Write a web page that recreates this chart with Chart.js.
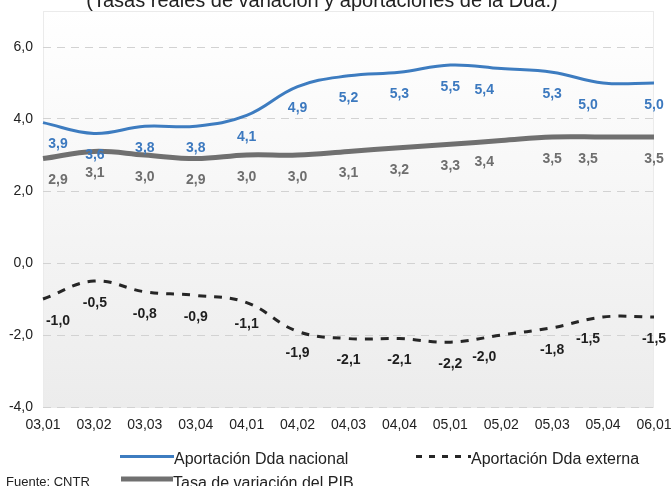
<!DOCTYPE html>
<html lang="es">
<head>
<meta charset="UTF-8">
<title>Aportaciones de la Dda.</title>
<script src="https://cdn.jsdelivr.net/npm/chart.js@4.4.1/dist/chart.umd.min.js"></script>
<style>
  body { margin: 0; background: #fff; }
</style>
</head>
<body>
<canvas id="chart" width="672" height="486"></canvas>
<script>
// values
const quarters = ['03,01', '03,02', '03,03', '03,04', '04,01', '04,02', '04,03', '04,04', '05,01', '05,02', '05,03', '05,04', '06,01'];
const nacional = [3.9, 3.6, 3.8, 3.8, 4.1, 4.9, 5.2, 5.3, 5.5, 5.4, 5.3, 5.0, 5.0];
const pib = [2.9, 3.1, 3.0, 2.9, 3.0, 3.0, 3.1, 3.2, 3.3, 3.4, 3.5, 3.5, 3.5];
const externa = [-1.0, -0.5, -0.8, -0.9, -1.1, -1.9, -2.1, -2.1, -2.2, -2.0, -1.8, -1.5, -1.5];
const yTicks = [-4, -2, 0, 2, 4, 6];

const FONT = "'Liberation Sans', Arial, sans-serif";
const fmt = v => v.toFixed(1).replace('.', ',');

// small horizontal nudges for the value labels, like the original
const labelShift = [15, 1, 0, 0, 0, 0, 0, 0, 0, -17, 0, -15, 0];

const plotBackground = {
    id: 'plotBackground',
    beforeDraw(chart) {
        const { ctx, chartArea: a } = chart;
        ctx.save();
        ctx.fillStyle = '#fff';
        ctx.fillRect(0, 0, chart.width, chart.height);
        const g = ctx.createLinearGradient(0, a.top, 0, a.bottom);
        g.addColorStop(0, '#ffffff');
        g.addColorStop(1, '#ececec');
        ctx.fillStyle = g;
        ctx.fillRect(a.left, a.top, a.right - a.left, a.bottom - a.top);
        ctx.strokeStyle = '#ebebeb';
        ctx.lineWidth = 1;
        ctx.strokeRect(a.left + 0.5, a.top + 0.5, a.right - a.left - 1, a.bottom - a.top);
        ctx.restore();
    }
};

const valueLabels = {
    id: 'valueLabels',
    afterDatasetsDraw(chart) {
        const ctx = chart.ctx;
        ctx.save();
        ctx.font = 'bold 14px ' + FONT;
        ctx.textAlign = 'center';
        ctx.textBaseline = 'middle';
        chart.data.datasets.forEach((ds, di) => {
            const meta = chart.getDatasetMeta(di);
            ctx.fillStyle = ds.labelColor;
            meta.data.forEach((pt, i) => {
                ctx.fillText(fmt(ds.data[i]), pt.x + labelShift[i], pt.y + 22);
            });
        });
        ctx.restore();
    }
};

const titleAndLegend = {
    id: 'titleAndLegend',
    afterDraw(chart) {
        const ctx = chart.ctx;
        ctx.save();
        ctx.fillStyle = '#222';
        ctx.textAlign = 'center';
        ctx.textBaseline = 'alphabetic';
        ctx.font = '20px ' + FONT;
        ctx.fillText('(Tasas reales de variación y aportaciones de la Dda.)', 322, 7);

        ctx.textAlign = 'left';
        ctx.font = '16px ' + FONT;
        // row 1
        ctx.strokeStyle = '#3d7cc0';
        ctx.lineWidth = 3;
        ctx.beginPath(); ctx.moveTo(120, 456.5); ctx.lineTo(174, 456.5); ctx.stroke();
        ctx.fillText('Aportación Dda nacional', 174, 463.5);
        ctx.strokeStyle = '#262626';
        ctx.setLineDash([6, 7]);
        ctx.beginPath(); ctx.moveTo(416, 456.5); ctx.lineTo(471, 456.5); ctx.stroke();
        ctx.setLineDash([]);
        ctx.fillText('Aportación Dda externa', 471, 463.5);
        // row 2
        ctx.strokeStyle = '#707070';
        ctx.lineWidth = 5;
        ctx.beginPath(); ctx.moveTo(121, 479); ctx.lineTo(173, 479); ctx.stroke();
        ctx.fillText('Tasa de variación del PIB', 173, 487.5);
        ctx.font = '13px ' + FONT;
        ctx.fillText('Fuente: CNTR', 6, 485.5);
        ctx.restore();
    }
};

const ctx = document.getElementById('chart').getContext('2d');
new Chart(ctx, {
    type: 'line',
    data: {
        labels: quarters,
        datasets: [
            {
                label: 'Aportación Dda nacional',
                data: nacional,
                borderColor: '#3d7cc0',
                borderWidth: 3,
                labelColor: '#3c79bf',
                pointRadius: 0,
                tension: 0.4,
                fill: false
            },
            {
                label: 'Tasa de variación del PIB',
                data: pib,
                borderColor: '#707070',
                borderWidth: 5,
                labelColor: '#6e6e6e',
                pointRadius: 0,
                tension: 0.4,
                fill: false
            },
            {
                label: 'Aportación Dda externa',
                data: externa,
                borderColor: '#262626',
                borderWidth: 3,
                borderDash: [8, 8],
                labelColor: '#1e1e1e',
                pointRadius: 0,
                tension: 0.4,
                fill: false
            }
        ]
    },
    options: {
        responsive: false,
        animation: false,
        layout: { padding: { top: 11, right: 18, bottom: 52, left: 0 } },
        plugins: {
            legend: { display: false },
            tooltip: { enabled: false }
        },
        scales: {
            x: {
                offset: false,
                grid: { display: false, drawTicks: false },
                border: { display: false },
                ticks: {
                    font: { family: FONT, size: 14 },
                    color: '#222',
                    padding: 10,
                    maxRotation: 0,
                    autoSkip: false
                },
                afterFit(scale) {
                    scale.height = 27;
                    scale.paddingLeft = 0;
                    scale.paddingRight = 0;
                }
            },
            y: {
                min: -4,
                max: 7,
                afterBuildTicks(scale) { scale.ticks = yTicks.map(v => ({ value: v })); },
                grid: { color: '#d2d2d2', lineWidth: 1, drawTicks: false },
                border: { display: false, dash: [8, 6] },
                ticks: {
                    font: { family: FONT, size: 14 },
                    color: '#222',
                    padding: 10,
                    callback: v => fmt(v)
                },
                afterFit(scale) {
                    scale.width = 43;
                    scale.paddingTop = 0;
                    scale.paddingBottom = 0;
                }
            }
        }
    },
    plugins: [plotBackground, valueLabels, titleAndLegend]
});
</script>
</body>
</html>
